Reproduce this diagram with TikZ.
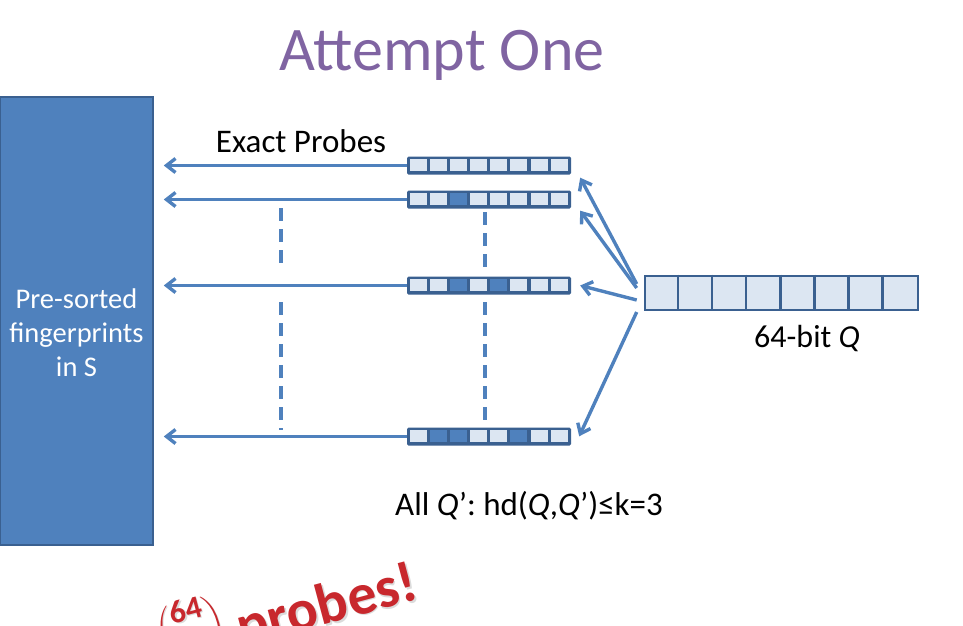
\documentclass[tikz,border=0pt]{standalone}
\usepackage{amsmath}
\usepackage{fontspec}
\setmainfont{Carlito}
\usetikzlibrary{arrows.meta,calc}
\definecolor{obl}{HTML}{4F81BD}
\definecolor{odk}{HTML}{3A6090}
\definecolor{olt}{HTML}{DCE6F2}
\definecolor{opu}{HTML}{8064A2}
\definecolor{ored}{HTML}{C8282D}
\newcommand\mkcells[1]{%
  \foreach \i in {0,...,7}{\fill[olt] ($(#1.north west)+(3+\i*20.125,3)$) rectangle +(17,12);}}
\newcommand\mkdark[2]{%
  \foreach \i in {#2}{\fill[obl] ($(#1.north west)+(3+\i*20.125,3)$) rectangle +(17,12);}}
\newcommand\binomtxt{\raisebox{23pt}{\fontsize{32}{34}\selectfont$\displaystyle\binom{\text{\bfseries 64}}{\text{\bfseries 3}}$}\hspace{11pt}probes!}
\begin{document}
\begin{tikzpicture}[x=1pt,y=-1pt,
  arr/.style={draw=obl, line width=3.4pt, -{Straight Barb[length=9pt,width=14pt]}},
  dsh/.style={draw=obl, line width=3.4pt, dash pattern=on 13pt off 8pt},
  pbar/.style={rectangle, fill=odk, rounded corners=1.5pt, minimum width=164pt, minimum height=18pt, inner sep=0pt},
  lbl/.style={font=\fontsize{32}{38}\selectfont, text=black, inner sep=0pt}]
\useasboundingbox (0,0) rectangle (963,625);
\clip (0,0) rectangle (963,625);

% title
\node[anchor=base, text=opu, font=\fontsize{62}{70}\selectfont, inner sep=0pt] (title) at (442,70) {Attempt One};

% sorted fingerprints
\node[rectangle, fill=obl, draw=odk, line width=1.5pt, minimum width=153pt, minimum height=448pt, inner sep=0pt] (S) at (76.5,321) {};
\node[text=white, align=center, font=\fontsize{28.5}{34}\selectfont, inner sep=0pt] (Stxt) at (76.5,333) {Pre-sorted\\fingerprints\\in S};

% probe bars
\node[pbar] (b1) at (489,165.5) {};
\mkcells{b1}
\node[pbar] (b2) at (489,199.5) {};
\mkcells{b2}\mkdark{b2}{2}
\node[pbar] (b3) at (489,285.5) {};
\mkcells{b3}\mkdark{b3}{2,4}
\node[pbar] (b4) at (489,436.5) {};
\mkcells{b4}\mkdark{b4}{1,2,5}

% query
\node[rectangle, fill=olt, draw=odk, line width=2.6pt, minimum width=273pt, minimum height=34pt, inner sep=0pt] (Q) at (781.5,293) {};
\foreach \i in {1,...,7}{\draw[odk, line width=2.6pt] ($(Q.north west)+(\i*34.125,0)$) -- ++(0,34);}
\node[lbl, anchor=base, font=\fontsize{32}{38}\selectfont] (Qtxt) at (807,347) {64-bit \textit{Q}};

% exact probes arrows
\node[lbl, anchor=base, font=\fontsize{33}{38}\selectfont] (ex) at (301,152) {Exact Probes};
\draw[arr] (b1.west) -- ($(b1.west -| S.east)+(10,0)$);
\draw[arr] (b2.west) -- ($(b2.west -| S.east)+(10,0)$);
\draw[arr] (b3.west) -- ($(b3.west -| S.east)+(10,0)$);
\draw[arr] (b4.west) -- ($(b4.west -| S.east)+(10,0)$);

% dashed continuation
\coordinate (d1a) at (281,208);
\coordinate (d1b) at (281,270);
\coordinate (d1c) at (281,302);
\coordinate (d1d) at (281,430);
\coordinate (d2a) at (485,212);
\coordinate (d2b) at (485,270);
\coordinate (d2c) at (485,302);
\coordinate (d2d) at (485,420);
\draw[dsh] (d1a) -- (d1b);
\draw[dsh] (d1c) -- (d1d);
\draw[dsh] (d2a) -- (d2b);
\draw[dsh] (d2c) -- (d2d);

% Q to probes
\draw[arr] ($(Q.west)+(-7,-9)$) -- ($(b1.south east)+(9,3)$);
\draw[arr] ($(Q.west)+(-7,-5)$) -- ($(b2.south east)+(9,2)$);
\draw[arr] ($(Q.west)+(-7,7)$) -- ($(b3.east)+(9,0)$);
\draw[arr] ($(Q.west)+(-7,19)$) -- ($(b4.north east)+(8,9)$);

\node[lbl, anchor=base, font=\fontsize{33}{38}\selectfont] (all) at (529,515) {All \textit{Q}’: hd(\textit{Q},\textit{Q}’)≤k=3};

% red exclamation
\node[anchor=base east, rotate=15, inner sep=0pt, text=black!40, opacity=0.35, font=\fontsize{58}{60}\selectfont\bfseries] (shadow) at (422.5,600.5) {\binomtxt};
\node[anchor=base east, rotate=15, inner sep=0pt, text=ored, font=\fontsize{58}{60}\selectfont\bfseries] (probes) at (421,599) {\binomtxt};
\end{tikzpicture}
\end{document}
